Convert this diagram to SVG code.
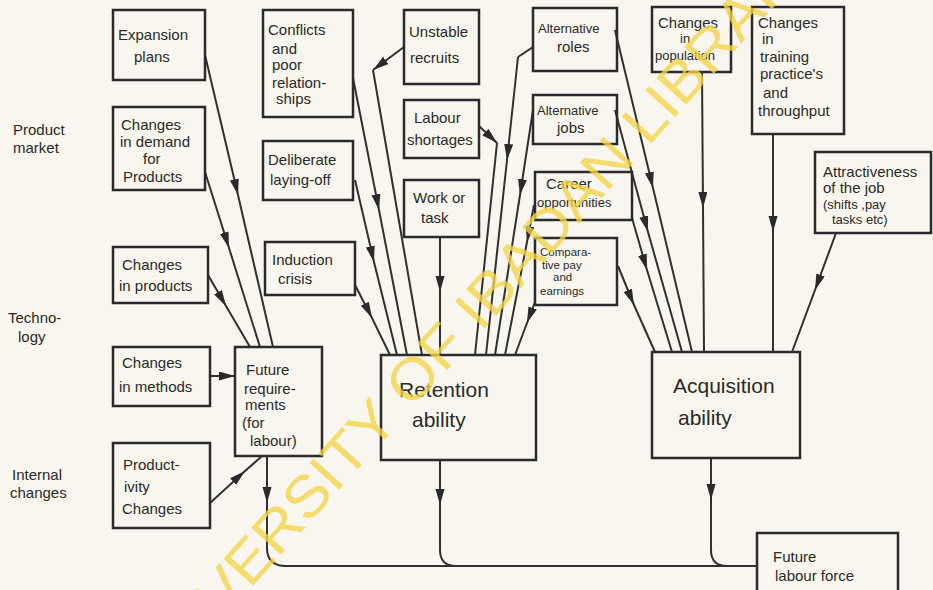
<svg xmlns="http://www.w3.org/2000/svg" width="933" height="590" viewBox="0 0 933 590">
<style>
.box{fill:none;stroke:#2b2b2b;stroke-width:2.5}
.t{font-family:"Liberation Sans",Arial,sans-serif;font-size:15px;fill:#2a2a2a}
.s{font-size:13px}
.xs{font-size:11.5px}
.b{font-size:21px}
.c{fill:none;stroke:#303030;stroke-width:2}
.m{marker-mid:url(#ah)}
.e{marker-end:url(#ah)}
.wm{font-family:"Liberation Sans",Arial,sans-serif;font-size:58px;fill:#f5d447;opacity:0.78}
</style>
<defs>
<marker id="ah" markerUnits="userSpaceOnUse" markerWidth="16" markerHeight="10" refX="16" refY="4.5" orient="auto">
<path d="M0,0 L16,4.5 L0,9 Z" fill="#2a2a2a"/>
</marker>
</defs>
<rect width="933" height="590" fill="#f8f6ee"/>

<g id="labels">
<text class="t" x="13" y="135">Product</text>
<text class="t" x="13" y="153">market</text>
<text class="t" x="8" y="323">Techno-</text>
<text class="t" x="18" y="342">logy</text>
<text class="t" x="12" y="480">Internal</text>
<text class="t" x="10" y="498">changes</text>
</g>

<g id="connectors">
<path class="c m" d="M205,55 L238,195 L273,347"/>
<path class="c m" d="M205,172 L229,248 L260,347"/>
<path class="c m" d="M208,275 L226,306 L250,347"/>
<path class="c e" d="M210,376 L235,376"/>
<path class="c m" d="M210,503 L245,471 L262,456"/>
<path class="c m" d="M355,285 L372,318 L390,355"/>
<path class="c m" d="M355,180 L374,262 L397,355"/>
<path class="c m" d="M353,78 L379,210 L407,355"/>
<path class="c e" d="M404,47 L373,70"/>
<path class="c" d="M373,70 L422,355"/>
<path class="c m" d="M440,237 L440,292 L440,355"/>
<path class="c e" d="M479,126 L497,143"/>
<path class="c" d="M497,143 L475,355"/>
<path class="c" d="M533,47 L518,57"/>
<path class="c m" d="M518,57 L507,160 L486,355"/>
<path class="c m" d="M533,110 L520,195 L495,355"/>
<path class="c m" d="M534,205 L527,242 L505,355"/>
<path class="c m" d="M535,302 L527,323 L515,355"/>
<path class="c m" d="M615,30 L653,188 L692,352"/>
<path class="c m" d="M615,110 L648,232 L682,352"/>
<path class="c m" d="M632,218 L647,270 L672,352"/>
<path class="c m" d="M618,266 L634,305 L655,352"/>
<path class="c m" d="M702,72 L703,208 L704,352"/>
<path class="c m" d="M773,134 L773,232 L773,352"/>
<path class="c m" d="M836,233 L815,290 L792,352"/>
<path class="c m" d="M267,456 L267,503 L267,548"/>
<path class="c m" d="M440,460 L440,505 L440,550"/>
<path class="c m" d="M711,458 L711,500 L711,550"/>
<path class="c" d="M267,548 Q267,566 286,566 L757,566"/>
<path class="c" d="M440,550 Q440,566 456,566"/>
<path class="c" d="M711,550 Q711,566 727,566"/>
</g>

<g id="expansion"><rect class="box" x="113" y="10" width="92" height="70"/>
<text class="t" x="118" y="40">Expansion</text><text class="t" x="134" y="62">plans</text></g>
<g id="demand"><rect class="box" x="113" y="107" width="92" height="83"/>
<text class="t" x="121" y="130">Changes</text><text class="t" x="120" y="147">in demand</text><text class="t" x="143" y="164">for</text><text class="t" x="123" y="182">Products</text></g>
<g id="cproducts"><rect class="box" x="113" y="247" width="95" height="56"/>
<text class="t" x="122" y="270">Changes</text><text class="t" x="119" y="291">in products</text></g>
<g id="cmethods"><rect class="box" x="113" y="347" width="97" height="59"/>
<text class="t" x="122" y="368">Changes</text><text class="t" x="119" y="392">in methods</text></g>
<g id="productivity"><rect class="box" x="113" y="443" width="97" height="85"/>
<text class="t" x="123" y="470">Product-</text><text class="t" x="124" y="492">ivity</text><text class="t" x="122" y="514">Changes</text></g>
<g id="futreq"><rect class="box" x="235" y="347" width="87" height="109"/>
<text class="t" x="246" y="375">Future</text><text class="t" x="244" y="394">require-</text><text class="t" x="245" y="410">ments</text><text class="t" x="242" y="428">(for</text><text class="t" x="250" y="446">labour)</text></g>
<g id="conflicts"><rect class="box" x="263" y="10" width="90" height="107"/>
<text class="t" x="268" y="35">Conflicts</text><text class="t" x="272" y="54">and</text><text class="t" x="272" y="70">poor</text><text class="t" x="272" y="88">relation-</text><text class="t" x="276" y="104">ships</text></g>
<g id="deliberate"><rect class="box" x="263" y="141" width="90" height="59"/>
<text class="t" x="268" y="165">Deliberate</text><text class="t" x="270" y="185">laying-off</text></g>
<g id="induction"><rect class="box" x="265" y="242" width="90" height="53"/>
<text class="t" x="272" y="265">Induction</text><text class="t" x="278" y="284">crisis</text></g>
<g id="unstable"><rect class="box" x="404" y="10" width="75" height="74"/>
<text class="t" x="409" y="37">Unstable</text><text class="t" x="410" y="63">recruits</text></g>
<g id="labour"><rect class="box" x="404" y="100" width="75" height="58"/>
<text class="t" x="414" y="123">Labour</text><text class="t" x="407" y="145">shortages</text></g>
<g id="work"><rect class="box" x="404" y="180" width="75" height="57"/>
<text class="t" x="413" y="203">Work or</text><text class="t" x="421" y="223">task</text></g>
<g id="retention"><rect class="box" x="381" y="355" width="155" height="105"/>
<text class="t b" x="399" y="397">Retention</text><text class="t b" x="412" y="427">ability</text></g>
<g id="altroles"><rect class="box" x="533" y="8" width="84" height="63"/>
<text class="t s" x="538" y="33">Alternative</text><text class="t" x="557" y="52">roles</text></g>
<g id="altjobs"><rect class="box" x="533" y="95" width="84" height="49"/>
<text class="t s" x="537" y="115">Alternative</text><text class="t" x="557" y="133">jobs</text></g>
<g id="career"><rect class="box" x="535" y="172" width="97" height="48"/>
<text class="t" x="546" y="189">Career</text><text class="t s" x="537" y="207">opportunities</text></g>
<g id="comparative"><rect class="box" x="535" y="238" width="82" height="67"/>
<text class="t xs" x="540" y="256">Compara-</text><text class="t xs" x="542" y="269">tive pay</text><text class="t xs" x="553" y="281">and</text><text class="t xs" x="540" y="295">earnings</text></g>
<g id="population"><rect class="box" x="652" y="7" width="79" height="65"/>
<text class="t" x="658" y="28">Changes</text><text class="t s" x="680" y="43">in</text><text class="t s" x="655" y="60">population</text></g>
<g id="training"><rect class="box" x="752" y="7" width="92" height="127"/>
<text class="t" x="758" y="28">Changes</text><text class="t" x="762" y="44">in</text><text class="t" x="760" y="62">training</text><text class="t" x="760" y="79">practice's</text><text class="t" x="763" y="98">and</text><text class="t" x="758" y="116">throughput</text></g>
<g id="attract"><rect class="box" x="815" y="152" width="116" height="81"/>
<text class="t" x="823" y="177">Attractiveness</text><text class="t" x="823" y="193">of the job</text><text class="t s" x="823" y="209">(shifts ,pay</text><text class="t s" x="832" y="224">tasks etc)</text></g>
<g id="acquisition"><rect class="box" x="652" y="352" width="148" height="106"/>
<text class="t b" x="673" y="393">Acquisition</text><text class="t b" x="678" y="425">ability</text></g>
<g id="futlabour"><rect class="box" x="757" y="533" width="141" height="62"/>
<text class="t" x="773" y="562">Future</text><text class="t" x="775" y="581">labour force</text></g>

<text class="wm" transform="translate(150,700) rotate(-48)" textLength="1010" lengthAdjust="spacingAndGlyphs">UNIVERSITY OF IBADAN LIBRARY</text>
</svg>
